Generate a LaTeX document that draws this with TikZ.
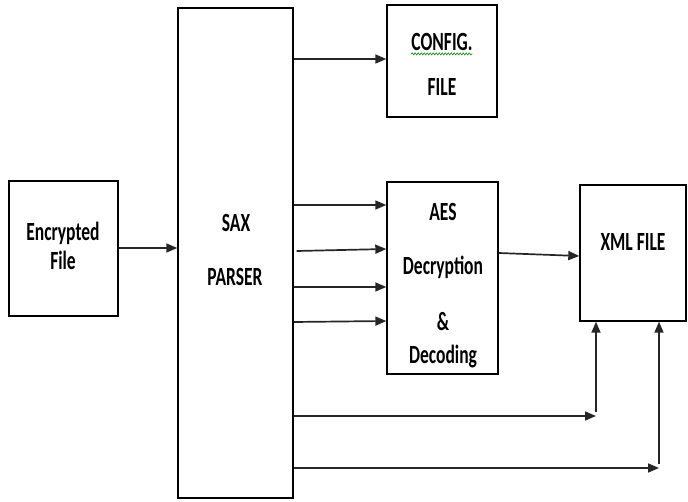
\documentclass[tikz,border=0pt]{standalone}
\usepackage{fontspec}
\setmainfont{Carlito}
\usepackage{graphicx}
\usetikzlibrary{arrows.meta,decorations.pathmorphing}
\newcommand\tx[1]{\scalebox{1}[1.5]{#1}}
\begin{document}
\begin{tikzpicture}[x=1pt,y=1pt,
  box/.style={draw=black,line width=1.4pt,inner sep=0pt},
  lbl/.style={inner sep=0pt,font=\fontsize{17.5}{20}\selectfont\bfseries},
  arr/.style={draw=black!85,line width=1.7pt,-{Triangle[length=11pt,width=9pt]}}]
\useasboundingbox (0,0) rectangle (688,-502);
% boxes
\node[box,minimum width=115,minimum height=490] (sax) at (235.5,-253) {};
\node[box,minimum width=110,minimum height=112] (cfg) at (442,-61) {};
\node[box,minimum width=109,minimum height=135] (enc) at (63.5,-248.5) {};
\node[box,minimum width=111,minimum height=192] (aes) at (442.5,-278) {};
\node[box,minimum width=106,minimum height=136] (xml) at (633,-253) {};
% labels
\node[lbl] (t1) at (236,-223) {\tx{SAX}};
\node[lbl] (t2) at (235,-277) {\tx{PARSER}};
\node[lbl] (t3) at (442,-42) {\tx{CONFIG.}};
\node[lbl] (t4) at (442,-87) {\tx{FILE}};
\node[lbl] (t5) at (63,-233) {\tx{Encrypted}};
\node[lbl] (t6) at (63,-260) {\tx{File}};
\node[lbl] (t7) at (443,-212) {\tx{AES}};
\node[lbl] (t8) at (443,-267) {\tx{Decryption}};
\node[lbl] (t9) at (443,-322) {\tx{\&}};
\node[lbl] (t10) at (443,-357) {\tx{Decoding}};
\node[lbl] (t11) at (633,-242) {\tx{XML FILE}};
% spell-check squiggle
\draw[green!50!black,line width=0.6pt,decorate,decoration={snake,amplitude=1pt,segment length=3pt}]
  ([yshift=-3pt]t3.south west) -- ([yshift=-3pt]t3.south east);
% connectors
\draw[arr] (enc.east |- 0,-248) -- (sax.west |- 0,-248);
\draw[arr] (sax.east |- 0,-59) -- (cfg.west |- 0,-59);
\draw[arr] (sax.east |- 0,-205) -- (aes.west |- 0,-205);
\draw[arr] ([xshift=3pt]sax.east |- 0,-251) -- (aes.west |- 0,-249);
\draw[arr] (sax.east |- 0,-287) -- (aes.west |- 0,-287);
\draw[arr] (sax.east |- 0,-322) -- (aes.west |- 0,-321);
\draw[arr] (aes.east |- 0,-253) -- (xml.west |- 0,-256);
\coordinate (c1) at (596,-416);
\coordinate (c2) at (659,-468);
\draw[arr] (sax.east |- c1) -- (c1);
\draw[arr] ([yshift=4pt]c1) -- (xml.south -| c1);
\draw[arr] (sax.east |- c2) -- (c2);
\draw[arr] ([yshift=4pt]c2) -- (xml.south -| c2);
\end{tikzpicture}
\end{document}
